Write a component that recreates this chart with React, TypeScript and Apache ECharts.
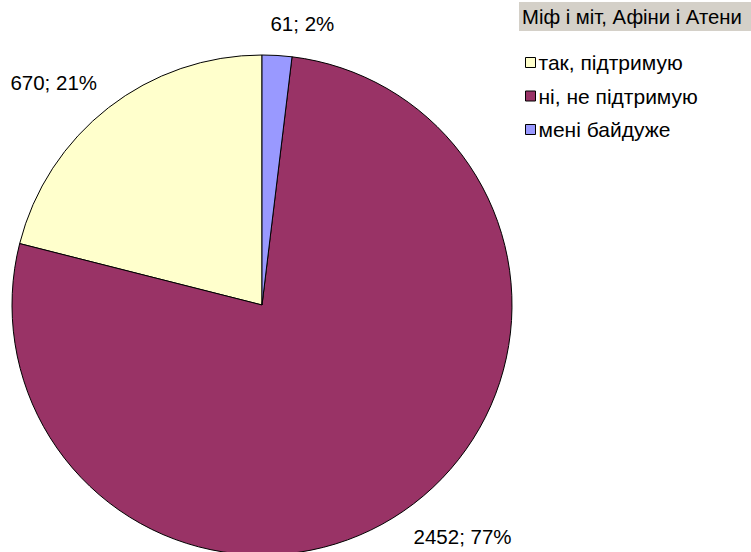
import React, { useEffect, useRef } from "react";
import * as echarts from "echarts";

const titleText = "Міф і міт, Афіни і Атени";
const categories = ["так, підтримую", "ні, не підтримую", "мені байдуже"];
const values = [670, 2452, 61];
const colors = ["#FFFFCC", "#993366", "#9999FF"];

const CX = 262;
const CY = 305;
const R = 250;
const GAP = 18;
const FONT = "Liberation Sans, Arial, sans-serif";

export default function App() {
  const ref = useRef<HTMLDivElement>(null);
  useEffect(() => {
    if (!ref.current) return;
    const chart = echarts.init(ref.current, undefined, { renderer: "svg" });
    const total = values.reduce((a, b) => a + b, 0);
    const mids: number[] = [];
    let acc = 0;
    values.forEach((v) => {
      const span = (v / total) * 360;
      mids.push(360 - (acc + span / 2));
      acc += span;
    });
    chart.setOption({
      animation: false,
      backgroundColor: "#ffffff",
      title: {
        text: titleText,
        left: 519,
        top: 2,
        padding: [5, 20, 4, 3],
        backgroundColor: "#D4D0C8",
        textStyle: {
          fontFamily: FONT,
          fontSize: 20.3,
          fontWeight: "normal",
          color: "#000",
        },
      },
      legend: {
        orient: "vertical",
        left: 520,
        top: 47,
        itemWidth: 10,
        itemHeight: 10,
        itemGap: 12.5,
        icon: "rect",
        data: categories,
        itemStyle: { borderColor: "#000", borderWidth: 1 },
        textStyle: {
          fontFamily: FONT,
          fontSize: 21,
          color: "#000",
          padding: [0, 0, 0, -2],
        },
      },
      series: [
        {
          type: "pie",
          center: [CX, CY],
          radius: R,
          startAngle: 90,
          clockwise: false,
          data: categories.map((c, i) => ({
            name: c,
            value: values[i],
            itemStyle: { color: colors[i] },
          })),
          itemStyle: { borderColor: "#000", borderWidth: 1 },
          label: {
            show: true,
            position: "outside",
            alignTo: "none",
            overflow: "none",
            formatter: (p: any) => `${p.value}; ${Math.round(p.percent)}%`,
            fontFamily: FONT,
            fontSize: 20.5,
            color: "#000",
          },
          labelLine: { show: false },
          labelLayout: (p: any) => {
            const a = (mids[p.dataIndex] * Math.PI) / 180;
            const dx = Math.sin(a);
            const dy = -Math.cos(a);
            const w = p.labelRect.width;
            const h = p.labelRect.height;
            const d = R + GAP + 4 * Math.pow(Math.max(0, -dy), 8);
            const ax = CX + dx * d;
            const ay = CY + dy * d;
            const sx = Math.abs(dx) < 0.08 ? dx / 0.08 : Math.sign(dx);
            return {
              x: ax + (sx * w) / 2,
              y: ay + (Math.sign(dy) * h) / 2,
              align: "center",
              verticalAlign: "middle",
            };
          },
        },
      ],
    });
    return () => chart.dispose();
  }, []);
  return (
    <div
      ref={ref}
      style={{ position: "absolute", left: 0, top: 0, width: 751, height: 552 }}
    />
  );
}
